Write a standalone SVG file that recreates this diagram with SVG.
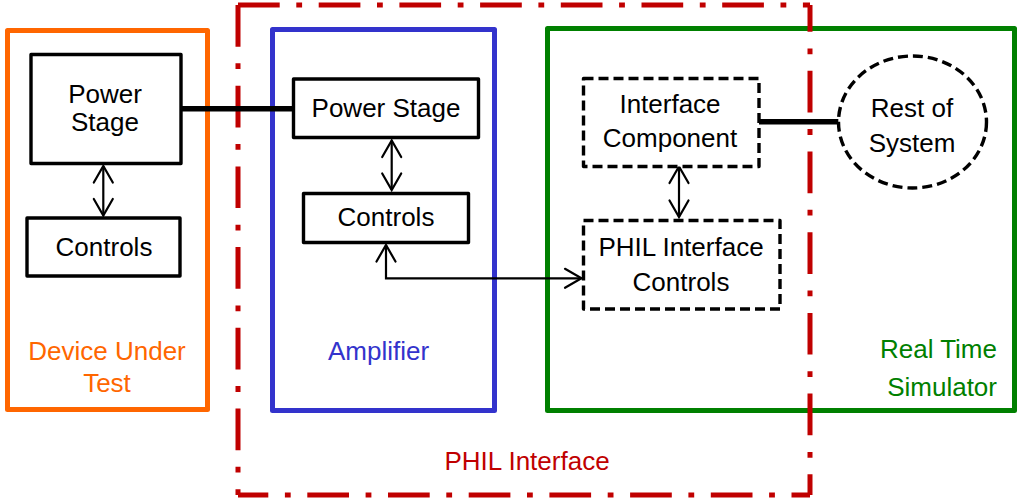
<svg xmlns="http://www.w3.org/2000/svg" width="1018" height="504" viewBox="0 0 1018 504">
  <style>
    text { font-family: "Liberation Sans", Arial, sans-serif; font-size: 26px; text-anchor: middle; fill: #000; }
    .box { fill: #fff; stroke: #000; stroke-width: 3.4; stroke-linejoin: round; }
    .dbox { fill: #fff; stroke: #000; stroke-width: 3.4; stroke-dasharray: 10 5; stroke-linejoin: round; }
    .frame { fill: none; stroke-width: 5; stroke-linejoin: round; }
    .red { stroke: #C00000; stroke-width: 5; stroke-dasharray: 41.7 16.6 5.8 16.6; fill: none; }
    .thick { stroke: #000; stroke-width: 5.6; fill: none; }
    .thin { stroke: #000; stroke-width: 2.2; fill: none; marker-start: url(#arr); marker-end: url(#arr); }
  </style>
  <defs>
    <marker id="arr" markerWidth="20" markerHeight="20" refX="0" refY="0" orient="auto-start-reverse" markerUnits="userSpaceOnUse" overflow="visible">
      <path d="M-16.5,-9.5 L0,0 L-16.5,9.5" fill="none" stroke="#000" stroke-width="2.2" stroke-linecap="round" stroke-linejoin="miter"/>
    </marker>
  </defs>

  <!-- Frames -->
  <g id="dut-frame">
    <rect class="frame" x="7.5" y="30.5" width="200" height="379" stroke="#FF6600"/>
    <text x="107" y="360" fill="#FF6600" style="fill:#FF6600">Device Under</text>
    <text x="107" y="391.5" style="fill:#FF6600">Test</text>
  </g>
  <g id="amp-frame">
    <rect class="frame" x="272.5" y="29.5" width="222" height="381" stroke="#3333CC"/>
    <text x="378.5" y="360" style="fill:#3333CC">Amplifier</text>
  </g>
  <g id="rts-frame">
    <rect class="frame" x="547.5" y="28.5" width="467" height="382" stroke="#008000"/>
    <text x="997" y="357.5" style="fill:#008000;text-anchor:end">Real Time</text>
    <text x="997" y="395.5" style="fill:#008000;text-anchor:end">Simulator</text>
  </g>
  <g id="phil-frame">
    <line class="red" x1="238" y1="5" x2="810" y2="5"/>
    <line class="red" x1="238" y1="5" x2="238" y2="495"/>
    <line class="red" x1="238" y1="495" x2="810" y2="495" stroke-dashoffset="11.4"/>
    <line class="red" x1="810" y1="5" x2="810" y2="495" stroke-dashoffset="14.9"/>
    <text x="527" y="470" style="fill:#C00000">PHIL Interface</text>
  </g>

  <!-- Connectors -->
  <g id="connectors">
    <line class="thick" x1="181" y1="108.8" x2="293.5" y2="108.8"/>
    <line class="thick" x1="759" y1="121.7" x2="838.5" y2="121.7"/>
    <line class="thin" x1="103.3" y1="166" x2="103.3" y2="215.5"/>
    <line class="thin" x1="391.7" y1="140.5" x2="391.7" y2="190"/>
    <line class="thin" x1="679" y1="166.5" x2="679" y2="217"/>
    <path d="M386,245 L386,278.3 L581.5,278.3" fill="none" stroke="#000" stroke-width="2.2" marker-start="url(#arr)" marker-end="url(#arr)"/>
  </g>

  <!-- Nodes -->
  <g id="dut-power">
    <rect class="box" x="31" y="54.5" width="150" height="109"/>
    <text x="105" y="102.7">Power</text>
    <text x="105" y="130.5">Stage</text>
  </g>
  <g id="dut-controls">
    <rect class="box" x="27" y="218" width="153" height="58"/>
    <text x="104" y="256">Controls</text>
  </g>
  <g id="amp-power">
    <rect class="box" x="293.5" y="79" width="185" height="58.5"/>
    <text x="386" y="117">Power Stage</text>
  </g>
  <g id="amp-controls">
    <rect class="box" x="303.5" y="193.5" width="165" height="49"/>
    <text x="386" y="226">Controls</text>
  </g>
  <g id="interface-component">
    <rect class="dbox" x="583.5" y="78.5" width="175.5" height="88"/>
    <text x="670" y="113.3">Interface</text>
    <text x="670" y="147.3">Component</text>
  </g>
  <g id="phil-controls">
    <rect class="dbox" x="583.5" y="220.5" width="196.5" height="88.5"/>
    <text x="681" y="256">PHIL Interface</text>
    <text x="681" y="290.7">Controls</text>
  </g>
  <g id="rest-of-system">
    <ellipse cx="912.5" cy="122" rx="74" ry="66" fill="#fff" stroke="#000" stroke-width="3.4" stroke-dasharray="10 5"/>
    <text x="912" y="117.3">Rest of</text>
    <text x="912" y="152">System</text>
  </g>
</svg>
